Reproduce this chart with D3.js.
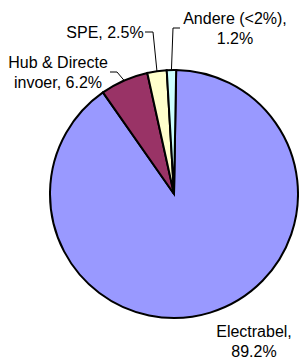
<!DOCTYPE html>
<meta charset="utf-8">
<style>
    body { margin: 0; background: #fff; }
    .lbl { font-family: "Liberation Sans", Arial, sans-serif; font-size: 16px; fill: #000; }
    .slice { stroke: #000; stroke-width: 2px; }
    .leader { fill: none; stroke: #000; stroke-width: 1px; }
</style>
<body>
<script src="https://d3js.org/d3.v7.min.js"></script>
<script>
// data
var names = ["Electrabel", "Hub & Directe invoer", "SPE", "Andere (<2%)"];
var shares = [89.2, 6.2, 2.5, 1.2];
var colors = ["#9999FF", "#993366", "#FFFFCC", "#CCFFFF"];

// label placement (block centre, leader elbow and end x, wrap width)
var layout = [
    { cx: 254, cy: 341, wrap: 90 },
    { cx: 58, cy: 72, elbowX: 117, endX: 110, wrap: 112 },
    { cx: 105, cy: 32, elbowX: 153, endX: 145, wrap: 200 },
    { cx: 235, cy: 28, elbowX: 173, endX: 180, wrap: 112 }
];

var W = 299, H = 361, R = 124;
var svg = d3.select("body").append("svg").attr("width", W).attr("height", H);
var g = svg.append("g").attr("transform", "translate(174,194)");

var data = names.map(function(n, i) { return { name: n, value: shares[i], color: colors[i] }; });

var start = Math.PI / 180;
var pie = d3.pie().value(d => d.value).sort(null)
    .startAngle(start).endAngle(start + 2 * Math.PI);
var arcs = pie(data);
var arc = d3.arc().innerRadius(0).outerRadius(R);
var edge = d3.arc().innerRadius(R).outerRadius(R);

g.selectAll(".slice").data(arcs).enter().append("path")
    .attr("class", "slice")
    .attr("d", arc)
    .attr("fill", d => d.data.color);

// leader lines
arcs.forEach(function(a, i) {
    var L = layout[i];
    if (L.elbowX === undefined) return;
    var p = edge.centroid(a);
    var pts = [[p[0] + 174, p[1] + 194], [L.elbowX, L.cy], [L.endX, L.cy]];
    svg.append("path").attr("class", "leader").attr("d", d3.line()(pts));
});

// labels, wrapped by width
arcs.forEach(function(a, i) {
    var L = layout[i];
    var full = a.data.name + ", " + d3.format(".1f")(a.data.value) + "%";
    var words = full.split(" ");
    var t = svg.append("text").attr("class", "lbl").attr("text-anchor", "middle");
    var lines = [], cur = [];
    var probe = svg.append("text").attr("class", "lbl");
    words.forEach(function(w) {
        var test = cur.concat([w]).join(" ");
        probe.text(test);
        if (cur.length && probe.node().getComputedTextLength() > L.wrap) {
            lines.push(cur.join(" "));
            cur = [w];
        } else {
            cur.push(w);
        }
    });
    lines.push(cur.join(" "));
    probe.remove();
    var lh = 20;
    lines.forEach(function(s, k) {
        t.append("tspan")
            .attr("x", L.cx)
            .attr("y", L.cy - (lines.length - 1) * lh / 2 + k * lh + 5.7)
            .text(s);
    });
});
</script>
</body>
